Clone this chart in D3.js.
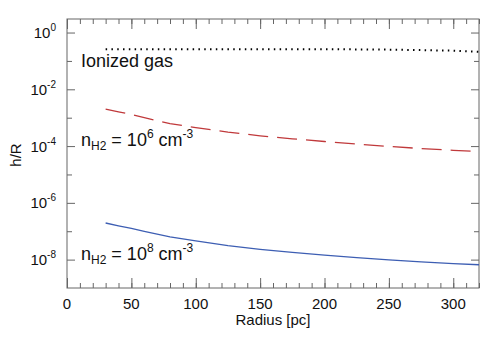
<!DOCTYPE html>
<html>
<head>
<meta charset="utf-8">
<script src="https://cdn.jsdelivr.net/npm/d3@7"></script>
<style>
  body { margin: 0; background: #fff; }
  text { font-family: "Liberation Sans", Arial, sans-serif; fill: #111; }
  .tick line { stroke: #666; }
</style>
</head>
<body>
<svg width="500" height="342"></svg>
<script>
// radius in pc
const radius = [30, 40, 50, 60, 80, 100, 125, 150, 175, 200, 225, 250, 275, 300, 320];
// h/R
const ionized = [0.26, 0.26, 0.26, 0.26, 0.26, 0.26, 0.26, 0.26, 0.26, 0.26, 0.255, 0.25, 0.24, 0.23, 0.21];
const dense6 = [2.0e-3, 1.6e-3, 1.3e-3, 1.0e-3, 6.2e-4, 4.5e-4, 3.1e-4, 2.3e-4, 1.8e-4, 1.45e-4, 1.18e-4, 9.7e-5, 8.2e-5, 7.1e-5, 6.5e-5];
const dense8 = [1.95e-7, 1.55e-7, 1.25e-7, 9.8e-8, 6.3e-8, 4.6e-8, 3.1e-8, 2.3e-8, 1.8e-8, 1.45e-8, 1.18e-8, 9.8e-9, 8.3e-9, 7.2e-9, 6.6e-9];
const xMajor = [0, 50, 100, 150, 200, 250, 300];
const xMinor = d3.range(0, 321, 10);
const yExp = [0, -2, -4, -6, -8];
const yMinorExp = [-1, -3, -5, -7];

const mLeft = 67, mRight = 479, mTop = 19, mBottom = 288;
const svg = d3.select("svg");
const x = d3.scaleLinear().domain([0, 320]).range([mLeft, mRight]);
const y = d3.scaleLog().domain([1e-9, 3]).range([mBottom, mTop]);

function clean(g) { g.select(".domain").remove(); g.selectAll("text").remove(); }

// ticks on all four sides, pointing inward
svg.append("g").attr("transform", `translate(0,${mBottom})`)
  .call(d3.axisBottom(x).tickValues(xMajor).tickSize(-10)).call(clean);
svg.append("g").attr("transform", `translate(0,${mBottom})`)
  .call(d3.axisBottom(x).tickValues(xMinor).tickSize(-5)).call(clean);
svg.append("g").attr("transform", `translate(0,${mTop})`)
  .call(d3.axisTop(x).tickValues(xMajor).tickSize(-10)).call(clean);
svg.append("g").attr("transform", `translate(0,${mTop})`)
  .call(d3.axisTop(x).tickValues(xMinor).tickSize(-5)).call(clean);
svg.append("g").attr("transform", `translate(${mLeft},0)`)
  .call(d3.axisLeft(y).tickValues(yExp.map(e => Math.pow(10, e))).tickSize(-8)).call(clean);
svg.append("g").attr("transform", `translate(${mLeft},0)`)
  .call(d3.axisLeft(y).tickValues(yMinorExp.map(e => Math.pow(10, e))).tickSize(-5)).call(clean);
svg.append("g").attr("transform", `translate(${mRight},0)`)
  .call(d3.axisRight(y).tickValues(yExp.map(e => Math.pow(10, e))).tickSize(-8)).call(clean);
svg.append("g").attr("transform", `translate(${mRight},0)`)
  .call(d3.axisRight(y).tickValues(yMinorExp.map(e => Math.pow(10, e))).tickSize(-5)).call(clean);

svg.append("rect").attr("x", mLeft).attr("y", mTop)
  .attr("width", mRight - mLeft).attr("height", mBottom - mTop)
  .attr("fill", "none").attr("stroke", "#666").attr("stroke-width", 1);

// x tick labels
svg.append("g").selectAll("text").data(xMajor).join("text")
  .attr("x", d => x(d)).attr("y", 309)
  .attr("text-anchor", "middle").attr("font-size", 15)
  .text(d => d);

// y tick labels 10^n
const yl = svg.append("g").selectAll("text").data(yExp).join("text")
  .attr("x", 56).attr("y", d => y(Math.pow(10, d)) + 5.5)
  .attr("text-anchor", "end").attr("font-size", 15);
yl.append("tspan").text("10");
yl.append("tspan").attr("dy", -7).attr("font-size", 10).text(d => d);

svg.append("text").attr("x", (mLeft + mRight) / 2).attr("y", 325)
  .attr("text-anchor", "middle").attr("font-size", 15).text("Radius [pc]");
svg.append("text").attr("transform", "translate(21,155) rotate(-90)")
  .attr("text-anchor", "middle").attr("font-size", 15).text("h/R");

// curves
const line = (vals) => d3.line().x((d, i) => x(radius[i])).y(d => y(d))(vals);
svg.append("path").attr("d", line(ionized)).attr("fill", "none")
  .attr("stroke", "#000").attr("stroke-width", 2).attr("stroke-dasharray", "1.5,4.3");
svg.append("path").attr("d", line(dense6)).attr("fill", "none")
  .attr("stroke", "#c0393b").attr("stroke-width", 1.3).attr("stroke-dasharray", "20,9");
svg.append("path").attr("d", line(dense8)).attr("fill", "none")
  .attr("stroke", "#3d5eb3").attr("stroke-width", 1.3);

// annotations
svg.append("text").attr("x", 81).attr("y", 67).attr("font-size", 18).text("Ionized gas");
function nLabel(exp, yb) {
  const t = svg.append("text").attr("x", 81).attr("y", yb).attr("font-size", 18);
  t.append("tspan").text("n");
  t.append("tspan").attr("dy", 4).attr("font-size", 12).text("H2");
  t.append("tspan").attr("dy", -4).text(" = 10");
  t.append("tspan").attr("dy", -8).attr("font-size", 12).text(exp);
  t.append("tspan").attr("dy", 8).text(" cm");
  t.append("tspan").attr("dy", -8).attr("font-size", 12).text("-3");
}
nLabel("6", 146);
nLabel("8", 260);
</script>
</body>
</html>
